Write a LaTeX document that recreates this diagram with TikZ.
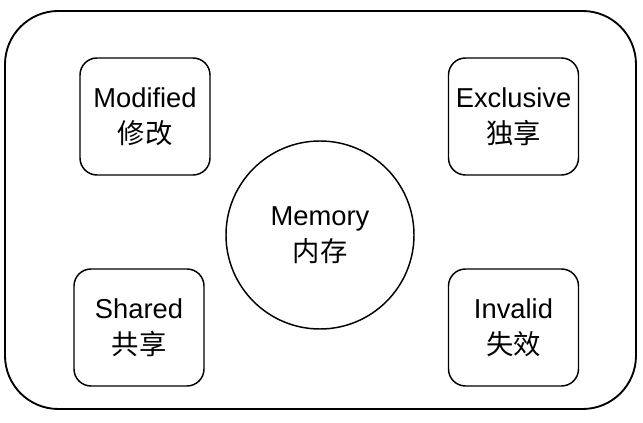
\documentclass[tikz,border=0pt]{standalone}
\usepackage{fontspec}
\setmainfont{Liberation Sans}
\newfontfamily\cjk{Noto Sans CJK SC}
\begin{document}
\begin{tikzpicture}[x=0.75pt,y=-0.75pt,
  txt/.style={align=center,font=\fontsize{20.5}{27}\selectfont,inner sep=0pt},
  state/.style={txt,draw,line width=1.1pt,rounded corners=12.75pt,minimum width=97.5pt,minimum height=87.75pt},
  mem/.style={txt,draw,circle,line width=1.1pt,minimum size=141pt}]
\useasboundingbox (0,0) rectangle (643,423);
\draw[line width=1.4pt,rounded corners=40pt] (5,11) rectangle (636,409);
\node[state] (mod) at (145,116.5) {Modified\\{\cjk 修改}};
\node[state] (exc) at (513.5,116.5) {Exclusive\\{\cjk 独享}};
\node[state] (sha) at (139,327.5) {Shared\\{\cjk 共享}};
\node[state] (inv) at (513.5,327.5) {Invalid\\{\cjk 失效}};
\node[mem] (memory) at (320,235) {Memory\\{\cjk 内存}};
\end{tikzpicture}
\end{document}
